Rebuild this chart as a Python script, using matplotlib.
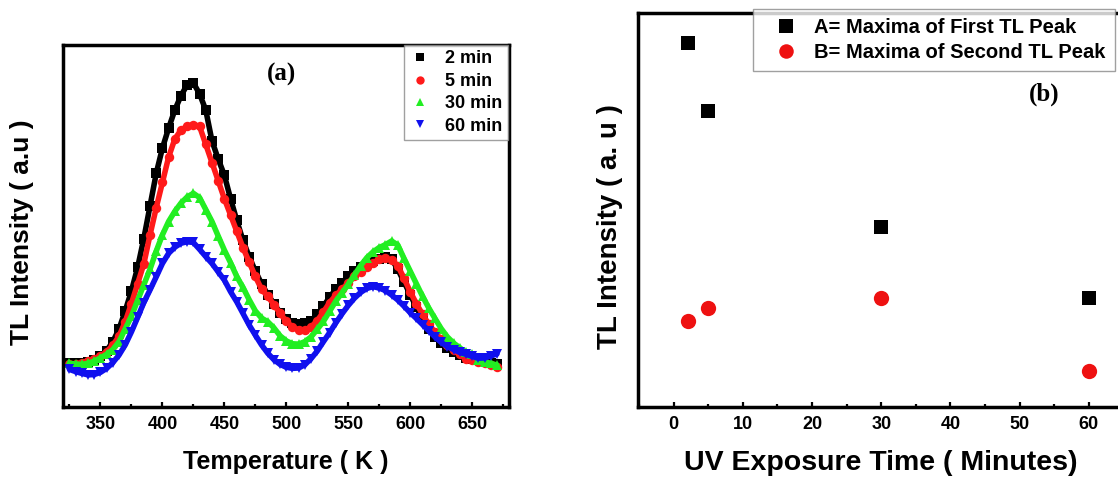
import numpy as np
import matplotlib
matplotlib.use("Agg")
import matplotlib.pyplot as plt
from matplotlib.ticker import MultipleLocator
from matplotlib.lines import Line2D

plt.rcParams['font.family'] = ['Liberation Sans', 'DejaVu Sans']
plt.rcParams['font.weight'] = 'bold'

# ---------------- data (a): TL glow curves ----------------
temperature = np.arange(325, 675, 5)  # K

tl_2min = [12.2, 12.0, 12.0, 12.3, 13.0, 14.0, 15.5, 18.0, 21.5, 26.5,
           32.0, 38.5, 46.5, 55.5, 64.5, 71.5, 77.0, 82.0, 86.0, 89.0,
           89.5, 86.5, 82.0, 73.5, 68.5, 64.0, 57.5, 51.5, 46.0, 41.5,
           37.5, 34.0, 31.0, 28.5, 26.0, 24.3, 23.2, 22.8, 23.2, 23.8,
           25.5, 27.8, 30.3, 32.5, 34.3, 36.0, 37.5, 38.6, 39.5, 40.2,
           40.8, 41.4, 40.8, 38.0, 34.5, 31.0, 27.5, 24.3, 21.6, 19.3,
           17.5, 16.2, 15.2, 14.3, 13.6, 13.1, 12.8, 12.5, 12.2, 11.8]

tl_5min = [11.7, 11.7, 12.0, 12.5, 13.2, 14.0, 15.2, 17.0, 19.5, 23.5,
           28.5, 34.0, 39.5, 47.5, 55.0, 62.0, 69.0, 74.0, 76.5, 77.5,
           78.0, 77.5, 72.5, 67.5, 62.5, 57.5, 53.0, 48.5, 44.0, 40.0,
           36.0, 32.5, 30.5, 28.2, 25.8, 23.6, 22.0, 21.2, 21.2, 22.0,
           23.8, 26.2, 28.8, 30.8, 32.5, 34.2, 36.0, 37.3, 38.6, 39.8,
           40.7, 41.0, 40.6, 39.0, 35.5, 31.8, 28.5, 25.5, 22.8, 20.6,
           18.6, 17.0, 15.7, 14.5, 13.3, 12.8, 12.3, 12.0, 11.6, 11.0]

tl_30min = [12.0, 11.8, 11.7, 12.0, 12.6, 13.5, 14.5, 15.8, 18.0, 21.5,
            25.0, 29.4, 33.7, 38.0, 43.0, 47.5, 51.2, 54.0, 56.3, 58.0,
            59.0, 57.8, 54.5, 51.2, 47.2, 43.3, 39.8, 36.0, 33.0, 29.6,
            26.5, 24.5, 23.5, 21.8, 19.6, 18.2, 17.4, 17.3, 18.0, 19.3,
            21.4, 23.6, 26.4, 29.2, 31.5, 33.8, 36.4, 39.0, 41.2, 42.8,
            44.0, 44.8, 45.8, 44.7, 41.0, 37.5, 34.0, 30.5, 27.3, 24.4,
            21.6, 19.3, 17.6, 16.3, 15.0, 14.5, 12.9, 12.4, 12.0, 11.5]

tl_60min = [10.3, 9.7, 9.2, 8.8, 8.9, 9.5, 10.6, 12.2, 14.3, 17.1,
            20.7, 24.7, 28.8, 32.3, 35.9, 39.6, 42.4, 44.1, 45.2, 45.6,
            45.4, 43.5, 41.5, 39.6, 37.3, 35.0, 31.8, 29.0, 25.8, 22.6,
            19.8, 17.1, 14.8, 13.0, 11.7, 10.9, 10.6, 10.7, 11.6, 13.3,
            15.4, 18.0, 20.5, 23.2, 25.7, 28.0, 30.0, 31.6, 32.7, 33.2,
            32.8, 32.1, 30.9, 29.5, 27.8, 26.0, 24.4, 22.7, 21.0, 19.3,
            17.8, 16.6, 15.8, 15.0, 14.5, 13.9, 13.4, 13.5, 14.0, 14.6]

series_labels = ['2 min', '5 min', '30 min', '60 min']
x_ticks_a = [350, 400, 450, 500, 550, 600, 650]

# ---------------- data (b): peak maxima ----------------
exposure_time = [2, 5, 30, 60]            # minutes
first_peak_max = [92.4, 75.2, 45.8, 27.6]
second_peak_max = [21.9, 25.0, 27.7, 9.2]
x_ticks_b = [0, 10, 20, 30, 40, 50, 60]

# ---------------- figure ----------------
W, H = 1118, 479
fig = plt.figure(figsize=(W / 100, H / 100), dpi=100)

def fx(px):
    return px / W

def fy(py):
    return 1 - py / H

ax1 = fig.add_axes([fx(63.3), fy(406.7), (509.3 - 63.3) / W, (406.7 - 45) / H])
ax2 = fig.add_axes([fx(638.3), fy(406.7), 519 / W, (406.7 - 13.3) / H])

spine_w = 2.5
for ax in (ax1, ax2):
    for s in ax.spines.values():
        s.set_linewidth(spine_w)
    ax.tick_params(axis='x', which='major', direction='in', length=3.5, width=1.6,
                   labelsize=13, pad=7, top=False)
    ax.tick_params(axis='x', which='minor', direction='in', length=2.2, width=1.6, top=False)
    ax.tick_params(axis='y', which='both', left=False, right=False, labelleft=False)

# panel (a)
styles = [('s', '#000000'), ('o', '#ff1a1a'), ('^', '#22ee22'), ('v', '#1010ee')]
series = [tl_2min, tl_5min, tl_30min, tl_60min]
handles = []
for vals, (mk, col), lab in zip(series, styles, series_labels):
    # dense scatter in the original reads as a thick band of markers
    ax1.plot(temperature, vals, linestyle='-', linewidth=4.0, color=col,
             marker=mk, markersize=6.8, markeredgewidth=0,
             solid_capstyle='round', solid_joinstyle='round')
    handles.append(Line2D([], [], linestyle='none', marker=mk, markersize=6,
                          color=col, markeredgewidth=0, label=lab))
ax1.set_xlim(320, 680)
ax1.set_ylim(0, 100)
ax1.set_xticks(x_ticks_a)
ax1.xaxis.set_minor_locator(MultipleLocator(25))
for lbl in ax1.get_xticklabels():
    lbl.set_fontweight('bold')

leg1 = ax1.legend(handles=handles, loc='upper right', bbox_to_anchor=(fx(508), fy(45)),
                  bbox_transform=fig.transFigure, borderaxespad=0,
                  prop={'weight': 'bold', 'size': 13}, frameon=True,
                  fancybox=False, edgecolor='#888888', handlelength=1.2,
                  handletextpad=0.8, labelspacing=0.3, borderpad=0.3)
leg1.get_frame().set_linewidth(1.0)

fig.text(fx(282), fy(74), '(a)', family='Liberation Serif', weight='bold',
         fontsize=18, ha='center', va='center')

# panel (b)
ax2.plot(exposure_time, first_peak_max, linestyle='none', marker='s',
         markersize=10, color='#000000', markeredgewidth=0,
         label='A= Maxima of First TL Peak')
ax2.plot(exposure_time, second_peak_max, linestyle='none', marker='o',
         markersize=11, color='#ee1111', markeredgewidth=0,
         label='B= Maxima of Second TL Peak')
ax2.set_xlim(-5.12, 69.9)
ax2.set_ylim(0, 100)
ax2.set_xticks(x_ticks_b)
ax2.xaxis.set_minor_locator(MultipleLocator(5))
for lbl in ax2.get_xticklabels():
    lbl.set_fontweight('bold')
ax2.spines['right'].set_visible(False)

leg2 = ax2.legend(loc='upper left', bbox_to_anchor=(fx(753), fy(9.3)),
                  bbox_transform=fig.transFigure, borderaxespad=0,
                  prop={'weight': 'bold', 'size': 14.5}, frameon=True,
                  fancybox=False, edgecolor='#888888', handlelength=2.4,
                  handletextpad=0.2, labelspacing=0.3, borderpad=0.45,
                  markerscale=0.95)
leg2.get_frame().set_linewidth(1.0)

fig.text(fx(1044), fy(94), '(b)', family='Liberation Serif', weight='bold',
         fontsize=18, ha='center', va='center')

# axis labels
fig.text(fx(286), fy(469.3), 'Temperature ( K )', fontsize=18, weight='bold',
         ha='center', va='baseline')
fig.text(fx(881), fy(470), 'UV Exposure Time ( Minutes)', fontsize=20.5, weight='bold',
         ha='center', va='baseline')
fig.text(fx(22), fy(232), 'TL Intensity ( a.u )', fontsize=19, weight='bold',
         rotation=90, ha='center', va='center')
fig.text(fx(610), fy(227), 'TL Intensity ( a. u )', fontsize=20, weight='bold',
         rotation=90, ha='center', va='center')

fig.savefig('out.png', dpi=100)
